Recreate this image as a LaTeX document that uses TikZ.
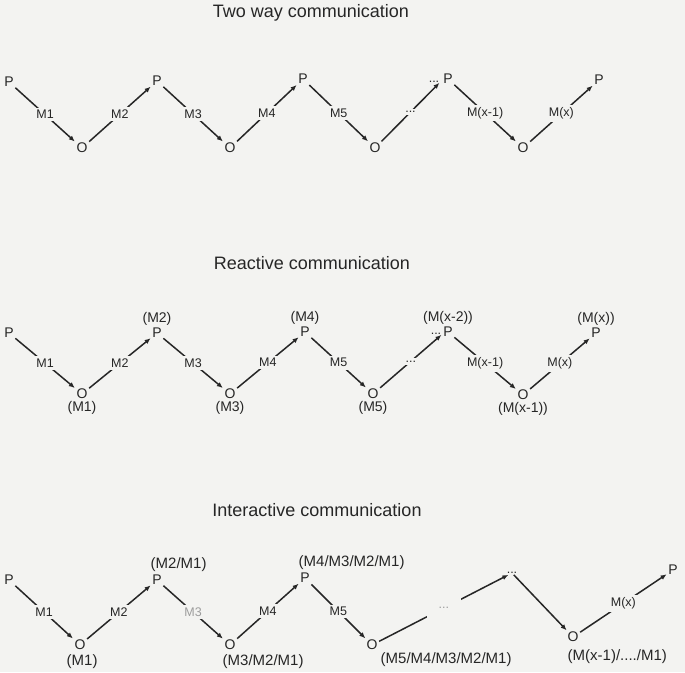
\documentclass[tikz,border=0pt]{standalone}
\usepackage{fontspec}
\setmainfont{Liberation Sans}
\usetikzlibrary{arrows.meta}
\definecolor{paper}{RGB}{243,243,241}
\definecolor{ink}{RGB}{38,38,38}
\begin{document}
\begin{tikzpicture}[x=1pt,y=-1pt,
  every node/.style={text=ink},
  pt/.style={font=\fontsize{14}{14}\selectfont, inner sep=1.5pt},
  lbl/.style={font=\fontsize{12.5}{12.5}\selectfont, fill=paper, inner sep=2.5pt},
  ann/.style={font=\fontsize{14}{14}\selectfont, inner sep=0.5pt},
  annb/.style={font=\fontsize{15}{15}\selectfont, inner sep=0.5pt, anchor=west},
  heading/.style={font=\fontsize{18}{18}\selectfont},
  arr/.style={draw=ink, line width=1.5pt, -{Latex[length=6pt,width=5pt]}},
  faint/.style={text=ink!45},
]
\fill[paper] (0,0) rectangle (685,672);
\useasboundingbox (0,0) rectangle (685,672);

% ---------------- Two way communication ----------------
\node[heading] (h1) at (311,13) {Two way communication};
\node[pt] (tp1) at (9,82) {P};
\node[pt] (to1) at (82,148) {O};
\node[pt] (tp2) at (157,81) {P};
\node[pt] (to2) at (230,148) {O};
\node[pt] (tp3) at (303,79) {P};
\node[pt] (to3) at (375,148) {O};
\node[pt] (tp4) at (448,79) {P};
\node[pt] (to4) at (523,148) {O};
\node[pt] (tp5) at (599,80) {P};
\node[lbl, fill=none, inner sep=0pt] (tdots) at (434,82) {...};
\draw[arr] (tp1) -- node[lbl]{M1} (to1);
\draw[arr] (to1) -- node[lbl]{M2} (tp2);
\draw[arr] (tp2) -- node[lbl]{M3} (to2);
\draw[arr] (to2) -- node[lbl]{M4} (tp3);
\draw[arr] (tp3) -- node[lbl]{M5} (to3);
\draw[arr] (to3) -- node[lbl]{...} (tdots.south east);
\draw[arr] (tp4) -- node[lbl]{M(x-1)} (to4);
\draw[arr] (to4) -- node[lbl]{M(x)} (tp5);

% ---------------- Reactive communication ----------------
\node[heading] (h2) at (312,263) {Reactive communication};
\node[pt] (rp1) at (9,333) {P};
\node[pt, label={[ann]below:(M1)}] (ro1) at (82,394) {O};
\node[pt, label={[ann]above:(M2)}] (rp2) at (157,333) {P};
\node[pt, label={[ann]below:(M3)}] (ro2) at (230,394) {O};
\node[pt, label={[ann]above:(M4)}] (rp3) at (305,332) {P};
\node[pt, label={[ann]below:(M5)}] (ro3) at (373,394) {O};
\node[pt, label={[ann]above:(M(x-2))}] (rp4) at (448,332) {P};
\node[pt, label={[ann]below:(M(x-1))}] (ro4) at (523,395) {O};
\node[pt, label={[ann]above:(M(x))}] (rp5) at (596,333) {P};
\node[lbl, fill=none, inner sep=0pt] (rdots) at (436,334) {...};
\draw[arr] (rp1) -- node[lbl]{M1} (ro1);
\draw[arr] (ro1) -- node[lbl]{M2} (rp2);
\draw[arr] (rp2) -- node[lbl]{M3} (ro2);
\draw[arr] (ro2) -- node[lbl]{M4} (rp3);
\draw[arr] (rp3) -- node[lbl]{M5} (ro3);
\draw[arr] (ro3) -- node[lbl]{...} (rdots.south east);
\draw[arr] (rp4) -- node[lbl]{M(x-1)} (ro4);
\draw[arr] (ro4) -- node[lbl]{M(x)} (rp5);

% ---------------- Interactive communication ----------------
\node[heading] (h3) at (317,510) {Interactive communication};
\node[pt] (ip1) at (9,580) {P};
\node[pt] (io1) at (80,645) {O};
\node[pt] (ip2) at (157,580) {P};
\node[pt] (io2) at (230,645) {O};
\node[pt] (ip3) at (305,578) {P};
\node[pt] (io3) at (372,645) {O};
\node[lbl, fill=none, inner sep=1pt] (idots) at (512,573) {...};
\node[pt] (io4) at (573,637) {O};
\node[pt] (ip4) at (673,570) {P};
\node[annb] (a1) at (150,565) {(M2/M1)};
\node[annb] (a2) at (298,563) {(M4/M3/M2/M1)};
\node[annb] (a3) at (66,662) {(M1)};
\node[annb] (a4) at (222,662) {(M3/M2/M1)};
\node[annb] (a5) at (380,660) {(M5/M4/M3/M2/M1)};
\node[annb] (a6) at (567,657) {(M(x-1)/..../M1)};
\draw[arr] (ip1) -- node[lbl]{M1} (io1);
\draw[arr] (io1) -- node[lbl]{M2} (ip2);
\draw[arr] (ip2) -- node[lbl, faint]{M3} (io2);
\draw[arr] (io2) -- node[lbl]{M4} (ip3);
\draw[arr] (ip3) -- node[lbl]{M5} (io3);
\draw[arr] (io3) -- node[lbl, faint, inner sep=12pt]{...} (idots);
\draw[arr] (idots) -- (io4);
\draw[arr] (io4) -- node[lbl]{M(x)} (ip4);
\end{tikzpicture}
\end{document}
